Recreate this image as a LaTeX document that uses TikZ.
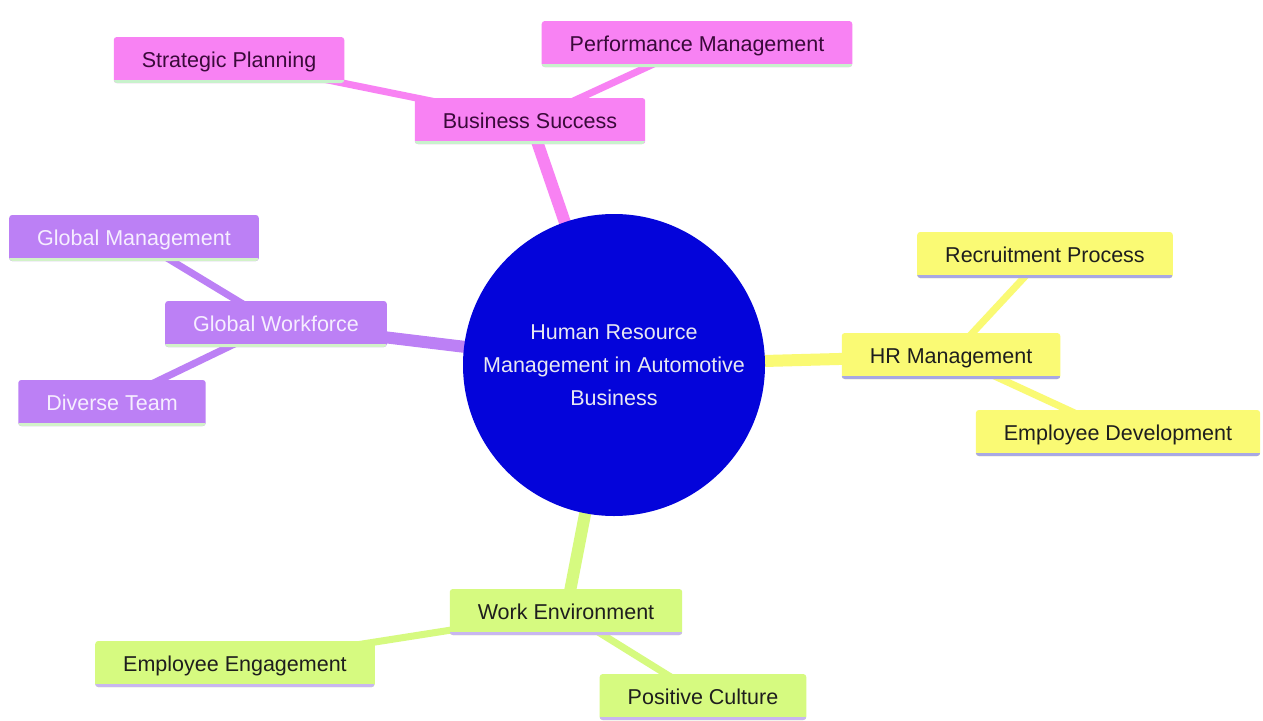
\documentclass[tikz,border=0pt]{standalone}
\usepackage{fontspec}
\setmainfont{Liberation Sans}
\usetikzlibrary{backgrounds}
\definecolor{pinkfill}{HTML}{F882F3}
\definecolor{pinktext}{HTML}{3A0A3A}
\definecolor{pinkline}{HTML}{C8F2CC}
\definecolor{purpfill}{HTML}{BC80F5}
\definecolor{purptext}{HTML}{F6EEFF}
\definecolor{purpline}{HTML}{D2F2C8}
\definecolor{yelfill}{HTML}{FAFA74}
\definecolor{yeltext}{HTML}{1E1E1E}
\definecolor{yelline}{HTML}{A8A8E4}
\definecolor{grnfill}{HTML}{D6FA80}
\definecolor{grntext}{HTML}{1E1E1E}
\definecolor{grnline}{HTML}{C8B6F0}
\definecolor{rootfill}{HTML}{0404DA}
\definecolor{roottext}{HTML}{E8E8F2}
\tikzset{
  mm/.style={rectangle, rounded corners=3pt, minimum height=46pt, inner xsep=28pt, inner ysep=0pt,
    text height=18pt, text depth=2.5pt, font=\fontsize{21.5}{26}\selectfont},
  pinknode/.style={mm, fill=pinkfill, text=pinktext,
    path picture={\draw[pinkline, line width=7pt] (path picture bounding box.south west) -- (path picture bounding box.south east);}},
  purpnode/.style={mm, fill=purpfill, text=purptext,
    path picture={\draw[purpline, line width=7pt] (path picture bounding box.south west) -- (path picture bounding box.south east);}},
  yelnode/.style={mm, fill=yelfill, text=yeltext,
    path picture={\draw[yelline, line width=7pt] (path picture bounding box.south west) -- (path picture bounding box.south east);}},
  grnnode/.style={mm, fill=grnfill, text=grntext,
    path picture={\draw[grnline, line width=7pt] (path picture bounding box.south west) -- (path picture bounding box.south east);}},
  rootnode/.style={circle, fill=rootfill, text=roottext, minimum size=302pt, inner sep=0pt, align=center,
    font=\fontsize{21.5}{33}\selectfont},
  thickedge/.style={line width=12pt},
  thinedge/.style={line width=7pt},
}
\begin{document}
\begin{tikzpicture}[x=1pt,y=-1pt]
\useasboundingbox (0,0) rectangle (1263,720);
\node[rootnode] (root) at (614,365) {Human Resource\\Management in Automotive\\Business};
% pink branch
\node[pinknode] (bs) at (530,121) {Business Success};
\node[pinknode] (sp) at (229,60) {Strategic Planning};
\node[pinknode] (pm) at (697,44) {Performance Management};
% purple branch
\node[purpnode] (gw) at (276,324) {Global Workforce};
\node[purpnode] (gm) at (134,238) {Global Management};
\node[purpnode] (dt) at (112,403) {Diverse Team};
% yellow branch
\node[yelnode] (hr) at (951,356) {HR Management};
\node[yelnode] (rp) at (1045,255) {Recruitment Process};
\node[yelnode] (ed) at (1118,433) {Employee Development};
% green branch
\node[grnnode] (we) at (566,612) {Work Environment};
\node[grnnode] (ee) at (235,664) {Employee Engagement};
\node[grnnode] (pc) at (703,697) {Positive Culture};
\begin{scope}[on background layer]
\fill[white] (0,0) rectangle (1263,720);
\draw[thickedge, pinkfill] (root.center) -- (bs.center);
\draw[thinedge, pinkfill] (bs.center) -- (sp.center);
\draw[thinedge, pinkfill] (bs.center) -- (pm.center);
\draw[thickedge, purpfill] (root.center) -- (gw.center);
\draw[thinedge, purpfill] (gw.center) -- (gm.center);
\draw[thinedge, purpfill] (gw.center) -- (dt.center);
\draw[thickedge, yelfill] (root.center) -- (hr.center);
\draw[thinedge, yelfill] (hr.center) -- (rp.center);
\draw[thinedge, yelfill] (hr.center) -- (ed.center);
\draw[thickedge, grnfill] (root.center) -- (we.center);
\draw[thinedge, grnfill] (we.center) -- (ee.center);
\draw[thinedge, grnfill] (we.center) -- (pc.center);
\end{scope}
\end{tikzpicture}
\end{document}
